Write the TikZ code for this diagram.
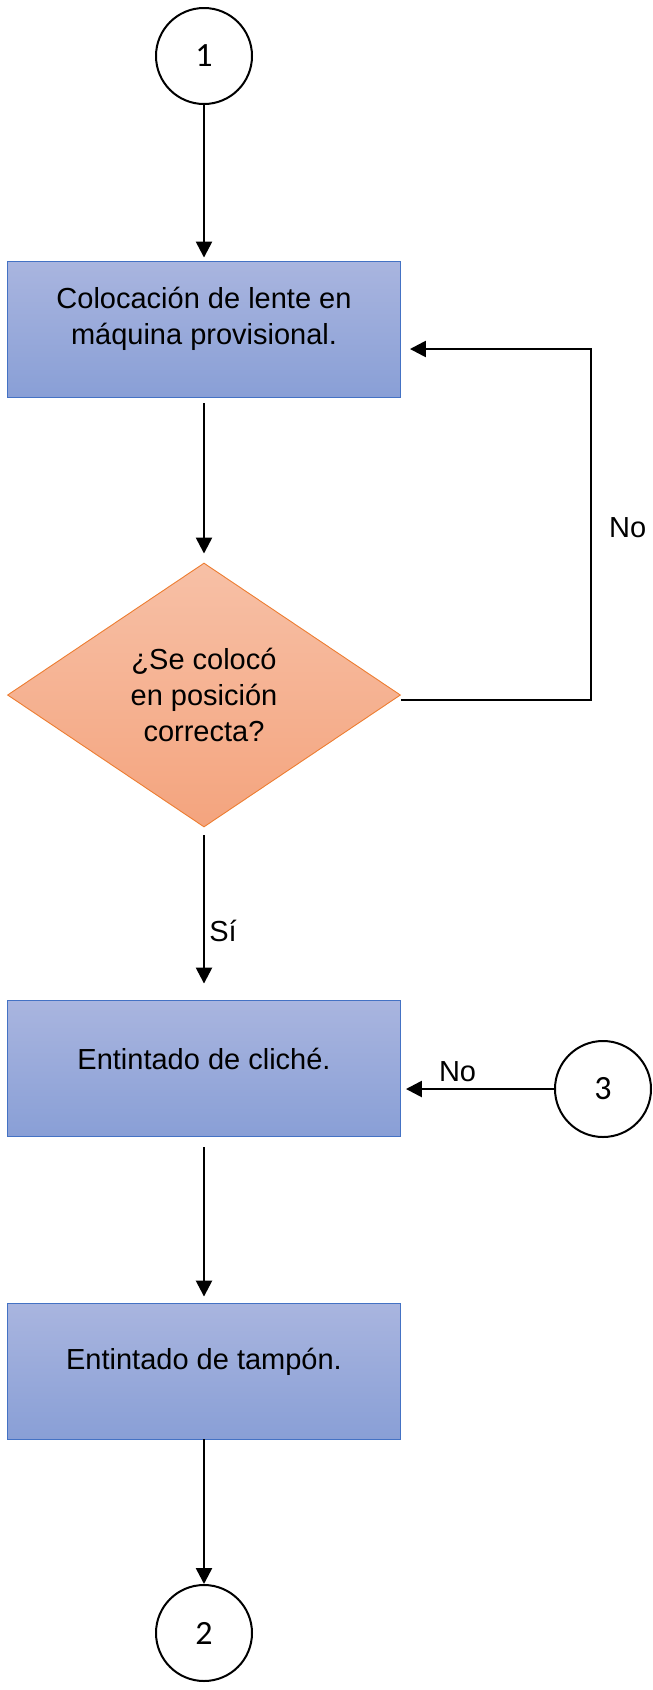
\documentclass[tikz,border=0pt]{standalone}
\usepackage{fontspec}
\setmainfont{Liberation Sans}
\newfontfamily\connfont{Carlito}
\usetikzlibrary{positioning,shapes,arrows.meta}

\definecolor{boxtop}{RGB}{169,181,223}
\definecolor{boxbottom}{RGB}{137,159,214}
\definecolor{boxedge}{RGB}{68,114,196}
\definecolor{dectop}{RGB}{247,192,166}
\definecolor{decbottom}{RGB}{244,164,126}
\definecolor{decedge}{RGB}{237,125,49}

\begin{document}
\begin{tikzpicture}[x=1pt, y=-1pt, >={Triangle[length=16pt,width=16pt]}]
  \useasboundingbox (0,0) rectangle (653,1690);

  \tikzset{connector/.style={circle, draw, line width=2pt, minimum size=96pt, inner sep=0pt, font=\connfont\fontsize{34}{38}\selectfont}}
  \tikzset{process_box/.style={rectangle, draw=boxedge, line width=0.9pt, top color=boxtop, bottom color=boxbottom, minimum width=393pt, minimum height=136pt}}
  \tikzset{decision/.style={diamond, draw=decedge, line width=0.9pt, top color=dectop, bottom color=decbottom, minimum width=393pt, minimum height=264pt, aspect=1.49, inner sep=0pt, align=center, font=\fontsize{29}{36}\selectfont}}
  \tikzset{box_text/.style={align=center, inner sep=0pt, font=\fontsize{29}{36}\selectfont}}
  \tikzset{flow/.style={->, line width=2.5pt}}
  \tikzset{flow_label/.style={inner sep=0pt, font=\fontsize{29}{36}\selectfont}}

  \node[connector] (c1) at (204,56) {1};
  \node[process_box] (coloc) at (204,329) {};
  \node[box_text] (coloc_text) at ([yshift=10pt]coloc.center) {Colocación de lente en\\máquina provisional.};
  \node[decision] (check) at (204,695) {¿Se colocó\\en posición\\correcta?};
  \node[process_box] (cliche) at (204,1068) {};
  \node[box_text] (cliche_text) at ([yshift=9pt]cliche.center) {Entintado de cliché.};
  \node[connector] (c3) at (603,1089) {3};
  \node[process_box] (tampon) at (204,1371) {};
  \node[box_text] (tampon_text) at ([yshift=9pt]tampon.center) {Entintado de tampón.};
  \node[connector] (c2) at (204,1633) {2};

  \draw[flow, shorten >=3pt] (c1) -- (coloc);
  \draw[flow, shorten <=6pt, shorten >=9pt] (coloc) -- (check);
  \draw[flow, shorten <=8pt, shorten >=16pt] (check) -- (cliche)
    node[flow_label, pos=0.6, anchor=west, xshift=4pt] {Sí};
  \draw[flow, shorten <=11pt, shorten >=6pt] (cliche) -- (tampon);
  \draw[flow] (tampon) -- (c2);

  % loop back when the lens is not in place
  \draw[flow, shorten >=9pt] ([yshift=-5pt]check.east) -- ++(190,0) |- ([yshift=-20pt]coloc.east)
    node[flow_label, pos=0.245, right=17pt] {No};
  \draw[flow, shorten >=5pt] (c3) -- (c3 -| cliche.east)
    node[flow_label, pos=0.63, anchor=south, yshift=6pt] {No};
\end{tikzpicture}
\end{document}
